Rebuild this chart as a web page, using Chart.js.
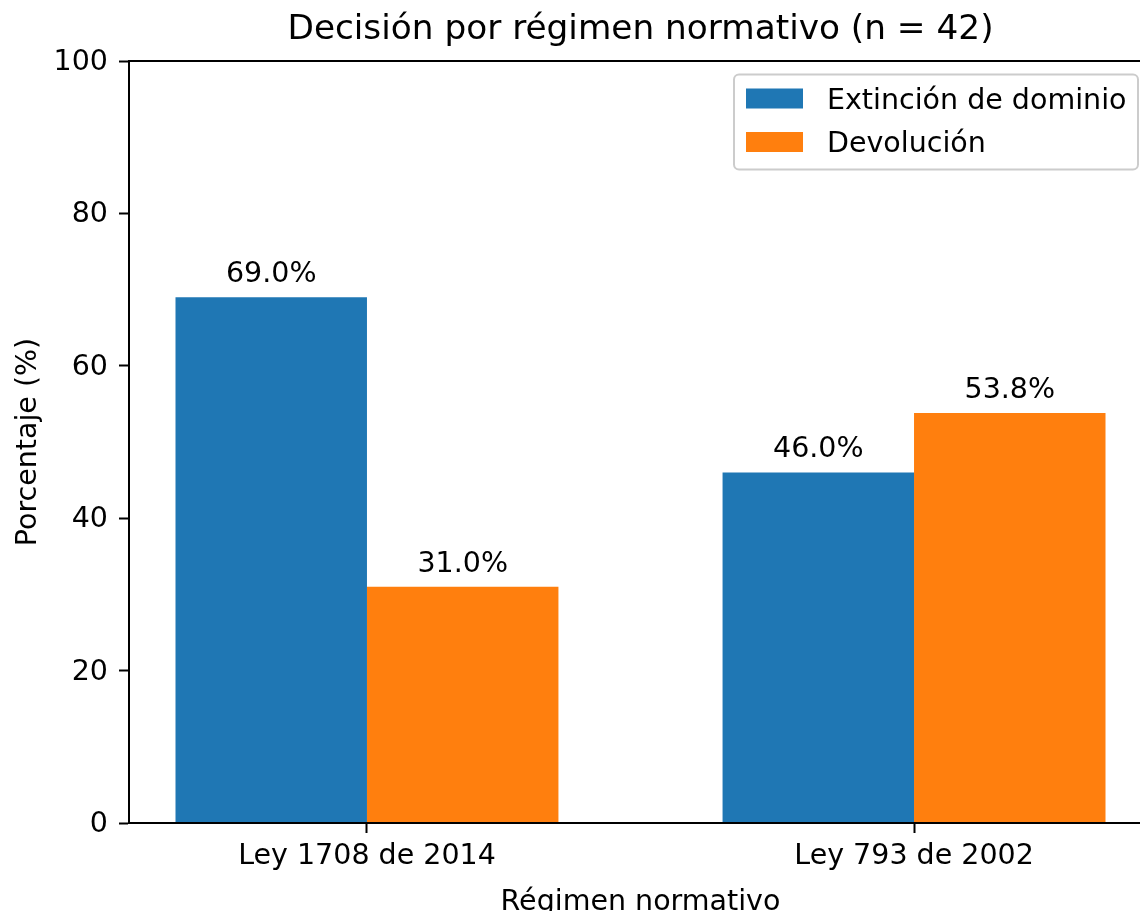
<!DOCTYPE html>
<html>
<head>
<meta charset="utf-8">
<script src="https://cdn.jsdelivr.net/npm/chart.js@4.4.1/dist/chart.umd.min.js"></script>
<style>
    body { margin: 0; background: #fff; }
    #wrap { width: 1140px; height: 911px; overflow: hidden; position: relative; }
    canvas { display: block; }
</style>
</head>
<body>
<div id="wrap">
    <canvas id="myChart" width="1160" height="940"></canvas>
</div>
<script>
    // data
    const categories = ['Ley 1708 de 2014', 'Ley 793 de 2002'];
    const extincion = [69.0, 46.0];
    const devolucion = [31.0, 53.8];
    const yTicks = [0, 20, 40, 60, 80, 100];
    const seriesNames = ['Extinción de dominio', 'Devolución'];
    const seriesColors = ['#1f77b4', '#ff7f0e'];

    const FONT = 'DejaVu Sans';
    const SIZE = 28.5;
    const fontTick = { family: FONT, size: SIZE };

    // matplotlib-like x limits: bars span -0.35..1.35, plus 5% margins
    const X_MIN = -0.435, X_MAX = 1.435;

    const toPoints = (vals) => vals.map((v, i) => ({ x: i, y: v }));

    const data = {
        datasets: [
            { label: seriesNames[0], data: toPoints(extincion), backgroundColor: seriesColors[0] },
            { label: seriesNames[1], data: toPoints(devolucion), backgroundColor: seriesColors[1] }
        ]
    };

    const extras = {
        id: 'extras',
        afterDatasetsDraw(chart) {
            const ctx = chart.ctx;
            ctx.save();
            ctx.font = SIZE + 'px "' + FONT + '"';
            ctx.fillStyle = '#000';
            ctx.textAlign = 'center';
            ctx.textBaseline = 'alphabetic';
            chart.data.datasets.forEach((ds, di) => {
                chart.getDatasetMeta(di).data.forEach((bar, i) => {
                    ctx.fillText(ds.data[i].y.toFixed(1) + '%', bar.x, bar.y - 15);
                });
            });
            ctx.restore();
        },
        afterDraw(chart) {
            const ctx = chart.ctx;
            const area = chart.chartArea;
            ctx.save();
            // legend, upper right
            const w = 404, h = 95;
            const x0 = area.right - 14 - w;
            const y0 = area.top + 13.5;
            ctx.beginPath();
            ctx.roundRect(x0, y0, w, h, 5);
            ctx.fillStyle = 'rgba(255,255,255,0.8)';
            ctx.fill();
            ctx.strokeStyle = '#cccccc';
            ctx.lineWidth = 2;
            ctx.stroke();
            ctx.font = SIZE + 'px "' + FONT + '"';
            ctx.textAlign = 'left';
            ctx.textBaseline = 'alphabetic';
            chart.data.datasets.forEach((ds, i) => {
                const hy = y0 + 14 + i * 43.5;
                ctx.fillStyle = ds.backgroundColor;
                ctx.fillRect(x0 + 12, hy, 57, 20);
                ctx.fillStyle = '#000';
                ctx.fillText(ds.label, x0 + 93, hy + 20);
            });
            ctx.restore();
        }
    };

    const tickGrid = { display: true, drawOnChartArea: false, drawTicks: true, tickLength: 10, tickWidth: 2, tickColor: '#000', color: '#000', offset: false };
    const spine = { display: true, color: '#000', width: 2, z: 1 };

    const config = {
        type: 'bar',
        data: data,
        options: {
            responsive: false,
            animation: false,
            events: [],
            devicePixelRatio: 1,
            categoryPercentage: 0.7,
            barPercentage: 1.0,
            layout: { padding: { left: 0, right: 8, top: 0, bottom: 0 } },
            plugins: {
                legend: { display: false },
                tooltip: { enabled: false },
                title: { display: false }
            },
            scales: {
                x: {
                    type: 'linear',
                    offset: false,
                    bounds: 'data',
                    min: X_MIN,
                    max: X_MAX,
                    afterBuildTicks: (s) => { s.ticks = categories.map((c, i) => ({ value: i })); },
                    afterFit: (s) => { s.height = 117; },
                    ticks: {
                        callback: (v) => categories[Math.round(v)],
                        color: '#000',
                        font: fontTick,
                        padding: 6,
                        maxRotation: 0,
                        autoSkip: false
                    },
                    grid: tickGrid,
                    border: spine,
                    title: { display: true, text: 'Régimen normativo', color: '#000', font: fontTick, padding: { top: 0, bottom: 20 } }
                },
                // top axis: carries the top spine and the title centred over the axes
                x2: {
                    type: 'linear',
                    position: 'top',
                    display: true,
                    offset: false,
                    min: X_MIN,
                    max: X_MAX,
                    afterFit: (s) => { s.height = 61; },
                    ticks: { display: false },
                    grid: { display: false, drawTicks: false },
                    border: spine,
                    title: {
                        display: true,
                        text: 'Decisión por régimen normativo (n = 42)',
                        color: '#000',
                        font: { family: FONT, size: 34.3, weight: 'normal' },
                        padding: { top: 10, bottom: 0 }
                    }
                },
                y: {
                    min: yTicks[0],
                    max: yTicks[yTicks.length - 1],
                    afterBuildTicks: (s) => { s.ticks = yTicks.map(v => ({ value: v })); },
                    afterFit: (s) => { s.width = 129; },
                    ticks: { color: '#000', font: fontTick, padding: 11, labelOffset: 1.5 },
                    grid: tickGrid,
                    border: spine,
                    title: { display: true, text: 'Porcentaje (%)', color: '#000', font: fontTick, padding: { top: 11, bottom: 0 } }
                }
            }
        },
        plugins: [extras]
    };

    const myChart = new Chart(document.getElementById('myChart'), config);
</script>
</body>
</html>
